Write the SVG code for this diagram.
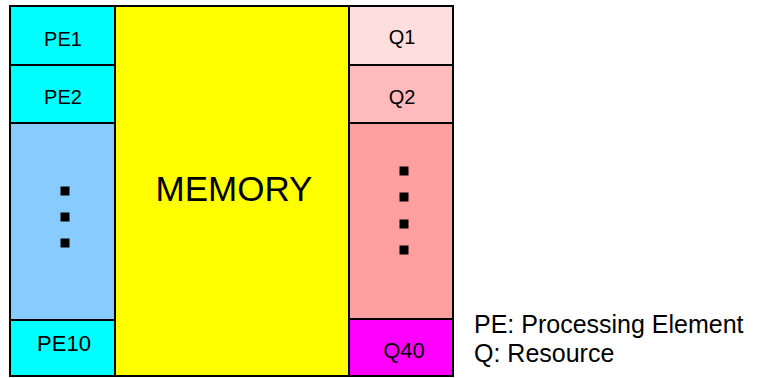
<svg xmlns="http://www.w3.org/2000/svg" width="757" height="378" viewBox="0 0 757 378">
  <style>
    .cell { stroke: #000; stroke-width: 2; }
    .lbl { font-family: "Liberation Sans", Arial, sans-serif; font-size: 20px; fill: #000; text-anchor: middle; }
    .big { font-family: "Liberation Sans", Arial, sans-serif; font-size: 35px; fill: #000; text-anchor: middle; }
    .legend { font-family: "Liberation Sans", Arial, sans-serif; font-size: 25px; fill: #000; }
    .dot { fill: #000; }
  </style>
  <rect width="757" height="378" fill="#fff"/>

  <!-- processing elements column -->
  <g id="pe1">
    <rect class="cell" x="10" y="6" width="105" height="59" fill="#00FFFF"/>
    <text class="lbl" x="63" y="46">PE1</text>
  </g>
  <g id="pe2">
    <rect class="cell" x="10" y="65" width="105" height="58" fill="#00FFFF"/>
    <text class="lbl" x="63" y="104">PE2</text>
  </g>
  <g id="pe-more">
    <rect class="cell" x="10" y="123" width="105" height="197" fill="#88CCFF"/>
    <rect class="dot" x="60.5" y="186.5" width="9" height="9"/>
    <rect class="dot" x="60.5" y="212.5" width="9" height="9"/>
    <rect class="dot" x="60.5" y="238.5" width="9" height="9"/>
  </g>
  <g id="pe10">
    <rect class="cell" x="10" y="320" width="105" height="56" fill="#00FFFF"/>
    <text class="lbl" x="64" y="351" style="font-size:22px">PE10</text>
  </g>

  <!-- shared memory -->
  <g id="memory">
    <rect class="cell" x="115" y="6" width="234" height="370" fill="#FFFF00"/>
    <text class="big" x="234" y="201">MEMORY</text>
  </g>

  <!-- resource queues column -->
  <g id="q1">
    <rect class="cell" x="349" y="6" width="104" height="59" fill="#FFDEDE"/>
    <text class="lbl" x="402" y="44">Q1</text>
  </g>
  <g id="q2">
    <rect class="cell" x="349" y="65" width="104" height="58" fill="#FFBBBB"/>
    <text class="lbl" x="402" y="104">Q2</text>
  </g>
  <g id="q-more">
    <rect class="cell" x="349" y="123" width="104" height="196" fill="#FF9F9F"/>
    <rect class="dot" x="399.5" y="166.5" width="9" height="9"/>
    <rect class="dot" x="399.5" y="192.5" width="9" height="9"/>
    <rect class="dot" x="399.5" y="219.5" width="9" height="9"/>
    <rect class="dot" x="399.5" y="245.5" width="9" height="9"/>
  </g>
  <g id="q40">
    <rect class="cell" x="349" y="319" width="104" height="57" fill="#FF00FF"/>
    <text class="lbl" x="404" y="358" style="font-size:22px">Q40</text>
  </g>

  <!-- legend -->
  <g id="legend">
    <text class="legend" x="474" y="333">PE: Processing Element</text>
    <text class="legend" x="474" y="362">Q: Resource</text>
  </g>

  <g id="connectors"/>
</svg>
